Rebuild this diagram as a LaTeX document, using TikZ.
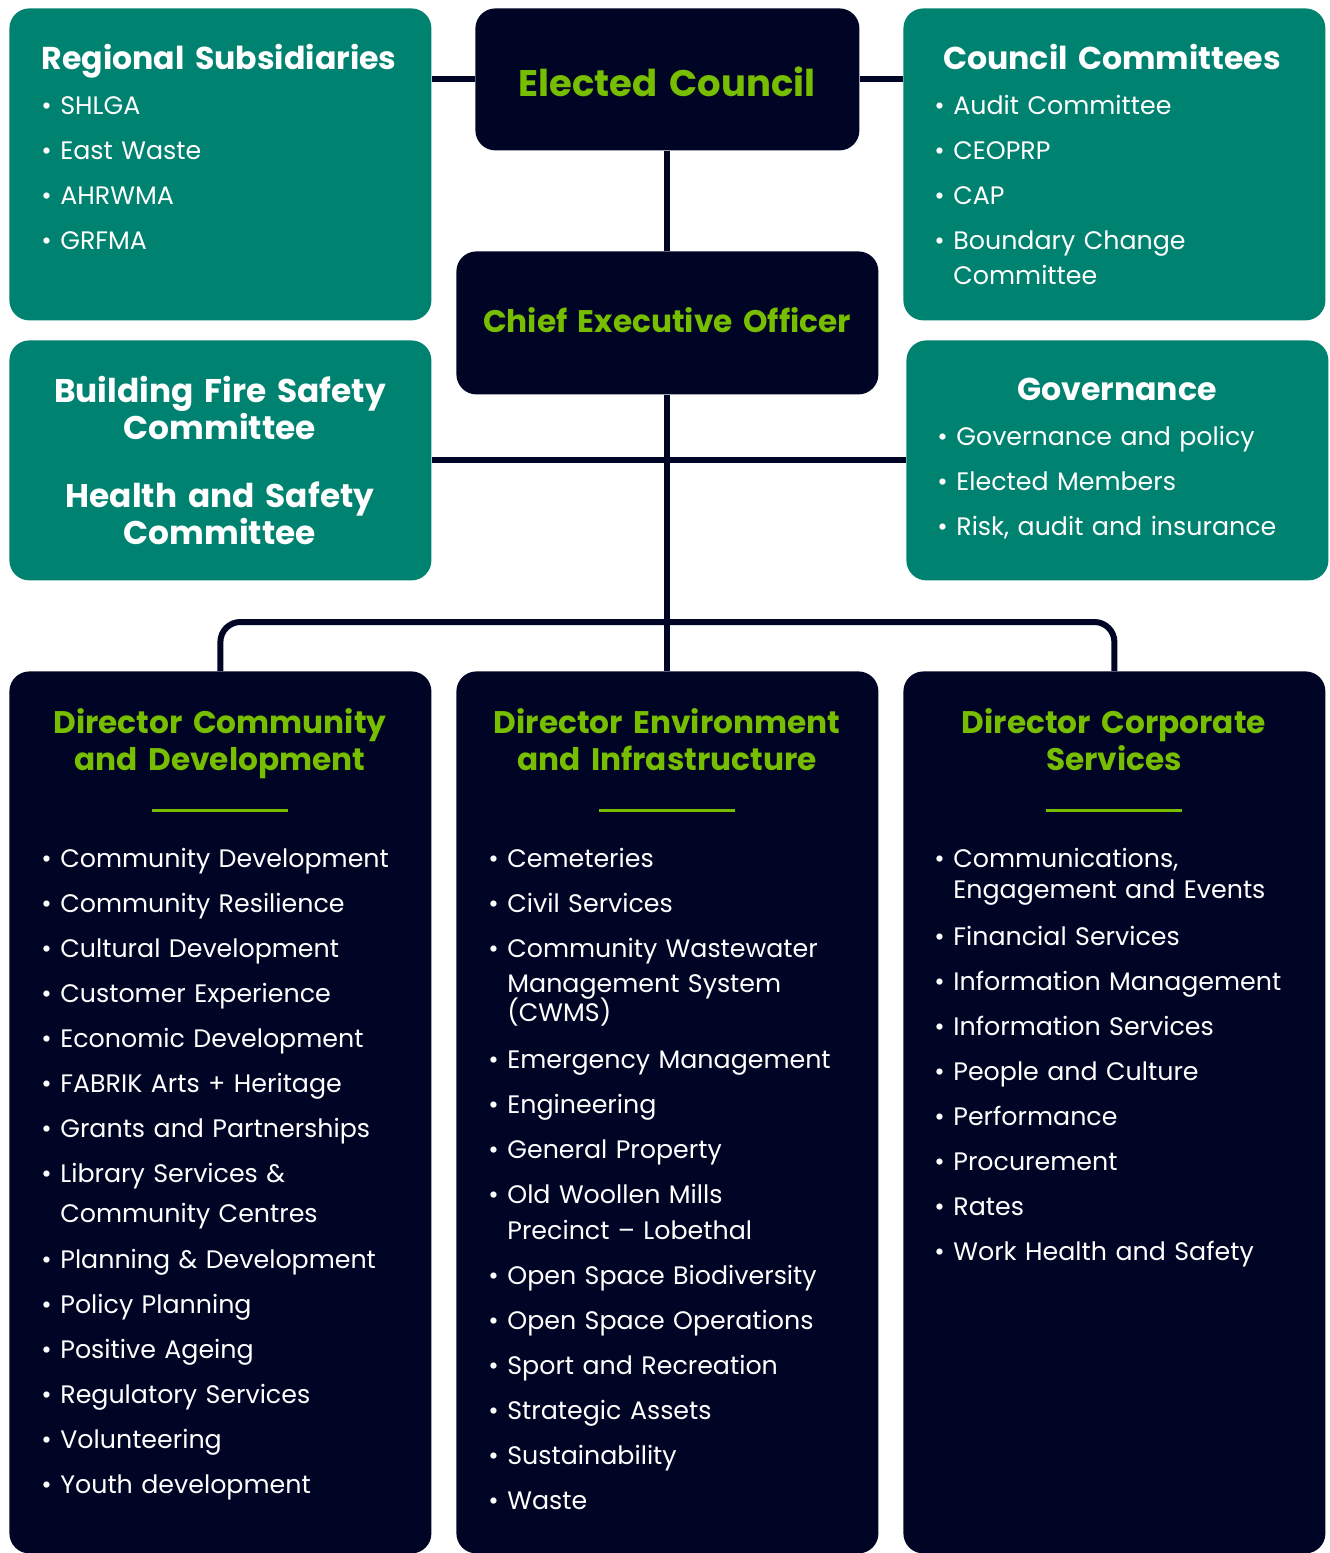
\documentclass[tikz,border=0pt]{standalone}
\usepackage{fontspec}
\setmainfont{Poppins}
\usetikzlibrary{positioning}

\definecolor{navy}{RGB}{0,5,38}
\definecolor{councilteal}{RGB}{0,130,112}
\definecolor{lime}{RGB}{120,190,0}

% bullet and hanging indent for list lines
\newcommand{\bul}{\makebox[9.5pt][l]{\textbullet}}
\newcommand{\ind}{\hspace*{9.5pt}}

\begin{document}
\begin{tikzpicture}[x=0.5pt, y=-0.5pt,
    box/.style={rounded corners=10pt, anchor=north west, inner sep=0pt, minimum width=211pt},
    tealbox/.style={box, fill=councilteal},
    navybox/.style={box, fill=navy},
    link/.style={navy, line width=3pt},
    head/.style={font=\bfseries\fontsize{15.8}{18.5}\selectfont, text=white, align=center,
        text width=205pt, inner sep=0pt, anchor=base},
    dirhead/.style={head, text=lime, font=\bfseries\fontsize{15.6}{18.5}\selectfont},
    items/.style={font=\fontsize{12.65}{22.5}\selectfont, text=white, align=left,
        text width=200pt, inner sep=0pt, anchor=base west},
    rule/.style={lime, line width=1.5pt}]

    \useasboundingbox (0,0) rectangle (1329,1553);

    % Top row
    \node[tealbox, minimum height=156pt] (regsub) at (9,8) {};
    \node[navybox, minimum width=192pt, minimum height=71pt] (council) at (475,8) {};
    \node[tealbox, minimum height=156pt] (committees) at (903,8) {};

    % Second row
    \node[navybox, minimum height=71.5pt] (ceo) at (456,251) {};
    \node[tealbox, minimum height=120pt] (safety) at (9,340) {};
    \node[tealbox, minimum height=120pt] (governance) at (906,340) {};

    % Directors
    \node[navybox, minimum height=441pt] (dircom) at (9,671) {};
    \node[navybox, minimum height=441pt] (dirinf) at (456,671) {};
    \node[navybox, minimum height=441pt] (dircorp) at (903,671) {};

    % Connectors
    \coordinate (bus) at (667,622);
    \draw[link] (regsub.east |- council.west) -- (council.west);
    \draw[link] (council.east) -- (committees.west |- council.east);
    \draw[link] (council.south) -- (ceo.north);
    \draw[link] (ceo.south) -- (dirinf.north);
    \draw[link] (safety.east) -- (governance.west);
    \draw[link, rounded corners=10pt] (dircom.north) |- (bus) -| (dircorp.north);

    % Texts of the top boxes
    \node[head] (regsub-title) at (219,69) {Regional Subsidiaries};
    \node[items] (regsub-list) at (41,114) {\bul SHLGA\\ \bul East Waste\\ \bul AHRWMA\\ \bul GRFMA};

    \node[head, text=lime, font=\bfseries\fontsize{18.5}{22}\selectfont] (council-title) at (667,96) {Elected Council};

    \node[head] (committees-title) at (1112,69) {Council Committees};
    \node[items] (committees-list) at (934,114) {\bul Audit Committee\\ \bul CEOPRP\\ \bul CAP\\
        \bul Boundary Change\\[-5pt] \ind Committee};

    \node[head, text=lime, font=\bfseries\fontsize{15.6}{20}\selectfont] (ceo-title) at (667,332) {Chief Executive Officer};

    \node[head, font=\bfseries\fontsize{16.4}{18.5}\selectfont] (safety-title) at (220,402)
        {Building Fire Safety\\ Committee\\[15.5pt] Health and Safety\\ Committee};

    \node[head] (governance-title) at (1117,400) {Governance};
    \node[items] (governance-list) at (937,445) {\bul Governance and policy\\ \bul Elected Members\\
        \bul Risk, audit and insurance};

    % Director headings and rules
    \node[dirhead] (dircom-title) at (220,733) {Director Community\\ and Development};
    \node[dirhead] (dirinf-title) at (667,733) {Director Environment\\ and Infrastructure};
    \node[dirhead] (dircorp-title) at (1114,733) {Director Corporate\\ Services};
    \draw[rule] (dircom.north) ++(-68,139) -- ++(136,0);
    \draw[rule] (dirinf.north) ++(-68,139) -- ++(136,0);
    \draw[rule] (dircorp.north) ++(-68,139) -- ++(136,0);

    % Director lists
    \node[items] (dircom-list) at (41,867) {\bul Community Development\\ \bul Community Resilience\\
        \bul Cultural Development\\ \bul Customer Experience\\ \bul Economic Development\\
        \bul FABRIK Arts + Heritage\\ \bul Grants and Partnerships\\
        \bul Library Services \&\\[-2.5pt] \ind Community Centres\\[0.5pt]
        \bul Planning \& Development\\ \bul Policy Planning\\ \bul Positive Ageing\\
        \bul Regulatory Services\\ \bul Volunteering\\ \bul Youth development};

    \node[items] (dirinf-list) at (488,867) {\bul Cemeteries\\ \bul Civil Services\\
        \bul Community Wastewater\\[-5pt] \ind Management System\\[-8pt] \ind (CWMS)\\[1pt]
        \bul Emergency Management\\ \bul Engineering\\ \bul General Property\\
        \bul Old Woollen Mills\\[-4.5pt] \ind Precinct -- Lobethal\\
        \bul Open Space Biodiversity\\ \bul Open Space Operations\\ \bul Sport and Recreation\\
        \bul Strategic Assets\\ \bul Sustainability\\ \bul Waste};

    \node[items] (dircorp-list) at (934,867) {\bul Communications,\\[-7pt] \ind Engagement and Events\\[1pt]
        \bul Financial Services\\ \bul Information Management\\ \bul Information Services\\
        \bul People and Culture\\ \bul Performance\\ \bul Procurement\\ \bul Rates\\
        \bul Work Health and Safety};

\end{tikzpicture}
\end{document}
